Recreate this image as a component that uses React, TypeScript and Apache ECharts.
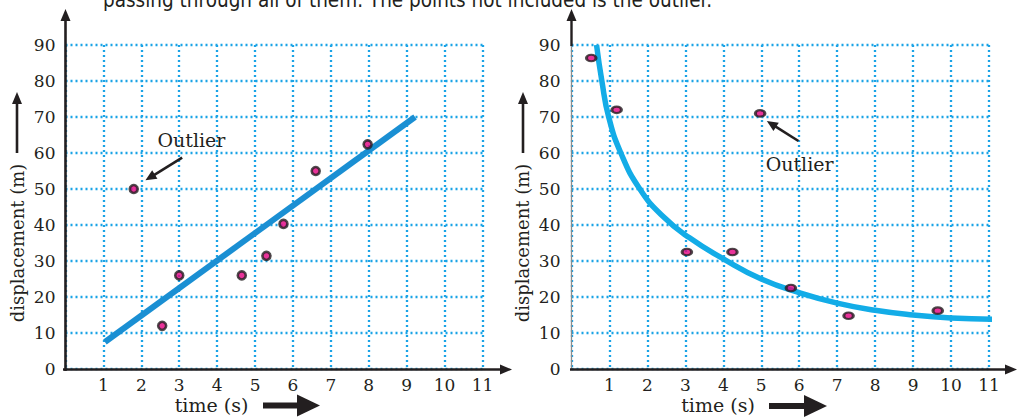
import React, { useEffect, useRef } from "react";
import * as echarts from "echarts";

// ---- data ----
const TOP_TEXT = "passing through all of them. The points not included is the outlier.";
const Y_TITLE = "displacement (m)";
const X_TITLE = "time (s)";
const OUTLIER_LABEL = "Outlier";

// left chart: linear trend
const leftPoints: number[][] = [
  [1.8, 50],
  [2.55, 12],
  [3.0, 26],
  [4.65, 26],
  [5.3, 31.4],
  [5.75, 40.3],
  [6.6, 55],
  [7.97, 62.4],
];
const leftOutlier = [1.8, 50];
const leftFit: number[][] = [
  [1.04, 7.5],
  [9.22, 70],
];

// right chart: decaying curve
const rightPoints: number[][] = [
  [0.52, 86.4],
  [1.19, 72],
  [3.04, 32.5],
  [4.24, 32.5],
  [4.97, 71],
  [5.78, 22.5],
  [7.3, 14.8],
  [9.65, 16.2],
];
const rightOutlier = [4.97, 71];
const rightCurve: number[][] = [
  [0.66, 90],
  [0.8, 80],
  [0.98, 70],
  [1.3, 60],
  [1.8, 50],
  [2.4, 42.5],
  [3.1, 36.5],
  [4.0, 30.6],
  [5.0, 25.0],
  [6.0, 21.2],
  [7.0, 18.3],
  [8.0, 16.3],
  [9.0, 15.0],
  [10.0, 14.2],
  [11.3, 13.8],
];

const X_MIN = 0;
const X_MAX = 11;
const Y_MIN = 0;
const Y_MAX = 90;

const INK = "#231f20";
const GRID_BLUE = "#1aa3e6";
const SERIF = "'DejaVu Serif', 'Liberation Serif', serif";

function arrow(
  x1: number,
  y1: number,
  x2: number,
  y2: number,
  lw: number,
  headLen: number,
  headHalf: number,
  color: string
) {
  const dx = x2 - x1;
  const dy = y2 - y1;
  const len = Math.sqrt(dx * dx + dy * dy);
  const ux = dx / len;
  const uy = dy / len;
  const bx = x2 - ux * headLen;
  const by = y2 - uy * headLen;
  const px = -uy;
  const py = ux;
  return [
    {
      type: "line",
      z: 100,
      silent: true,
      shape: { x1, y1, x2: bx + ux * 1, y2: by + uy * 1 },
      style: { stroke: color, lineWidth: lw, lineCap: "butt" },
    },
    {
      type: "polygon",
      z: 100,
      silent: true,
      shape: {
        points: [
          [x2, y2],
          [bx + px * headHalf, by + py * headHalf],
          [bx - px * headHalf, by - py * headHalf],
        ],
      },
      style: { fill: color },
    },
  ];
}

function makeAxes(gridIndex: number, yMargin: number) {
  const xAxis = {
    type: "value",
    gridIndex,
    min: X_MIN,
    max: X_MAX,
    interval: 1,
    axisLine: { show: false },
    axisTick: { show: false },
    axisLabel: {
      margin: 7,
      color: INK,
      fontFamily: SERIF,
      fontSize: 17,
      formatter: (v: number) => (v === 0 ? "" : String(v)),
    },
    splitLine: {
      show: true,
      lineStyle: { color: GRID_BLUE, width: 2.3, type: [2, 3] },
    },
  };
  const yAxis = {
    type: "value",
    gridIndex,
    min: Y_MIN,
    max: Y_MAX,
    interval: 10,
    axisLine: { show: false },
    axisTick: { show: false },
    axisLabel: {
      margin: yMargin,
      color: INK,
      fontFamily: SERIF,
      fontSize: 17,
    },
    splitLine: {
      show: true,
      lineStyle: { color: GRID_BLUE, width: 2.3, type: [2, 3] },
    },
  };
  return { xAxis, yAxis };
}

export default function App() {
  const ref = useRef<HTMLDivElement>(null);

  useEffect(() => {
    if (!ref.current) return;
    const chart = echarts.init(ref.current, null, { renderer: "svg" });
    const a0 = makeAxes(0, 10);
    const a1 = makeAxes(1, 11);
    chart.setOption({
      animation: false,
      backgroundColor: "#ffffff",
      grid: [
        { left: 65.5, top: 45, width: 417, height: 324 },
        { left: 571.5, top: 45, width: 417.5, height: 324 },
      ],
      xAxis: [a0.xAxis, a1.xAxis],
      yAxis: [a0.yAxis, a1.yAxis],
      series: [
        {
          type: "line",
          xAxisIndex: 0,
          yAxisIndex: 0,
          data: leftFit,
          showSymbol: false,
          lineStyle: { color: "#1a8fd3", width: 6, cap: "butt" },
          z: 3,
        },
        {
          type: "scatter",
          xAxisIndex: 0,
          yAxisIndex: 0,
          data: leftPoints,
          symbol: "circle",
          symbolSize: 8,
          itemStyle: { color: "#e4007f", borderColor: INK, borderWidth: 2.6 },
          z: 4,
        },
        {
          type: "line",
          xAxisIndex: 1,
          yAxisIndex: 1,
          data: rightCurve,
          smooth: 0.5,
          showSymbol: false,
          lineStyle: { color: "#13ace7", width: 5.5, cap: "butt" },
          z: 3,
        },
        {
          type: "scatter",
          xAxisIndex: 1,
          yAxisIndex: 1,
          data: rightPoints,
          symbol: "path://M0,4a6,4 0 1,0 12,0a6,4 0 1,0 -12,0z",
          symbolSize: [9.5, 6.5],
          itemStyle: { color: "#e4007f", borderColor: INK, borderWidth: 2.6 },
          z: 4,
        },
      ],
    });

    const lp = chart.convertToPixel({ gridIndex: 0 }, leftOutlier) as number[];
    const rp = chart.convertToPixel({ gridIndex: 1 }, rightOutlier) as number[];

    const axisY = 369.5;
    const titleText = (x: number, y: number, text: string, size: number, rot = 0) => ({
      type: "text",
      z: 100,
      x,
      y,
      rotation: rot,
      style: {
        text,
        fontFamily: SERIF,
        fontSize: size,
        fill: INK,
        align: "center",
        verticalAlign: "middle",
      },
    });
    const graphics: any[] = [
      // top caption (cut off by the page edge, as in the source)
      {
        type: "text",
        z: 100,
        x: 103,
        y: 0,
        style: {
          text: TOP_TEXT,
          fontFamily: "'Liberation Sans Narrow', 'DejaVu Sans Condensed', sans-serif",
          fontSize: 20.5,
          fill: INK,
          verticalAlign: "middle",
          align: "left",
        },
      },
      // left axes
      ...arrow(63, axisY, 512, axisY, 2.6, 12, 5, INK),
      ...arrow(65.5, 371, 65.5, 9, 2.6, 12, 5, INK),
      // right axes
      {
        type: "line",
        z: 99,
        shape: { x1: 571.5, y1: 369, x2: 571.5, y2: 45 },
        style: { stroke: "#8c8c8c", lineWidth: 1.3 },
      },
      ...arrow(571.5, 46, 571.5, 9, 2.4, 12, 5, INK),
      ...arrow(570, axisY, 1017, axisY, 2.6, 12, 5, INK),
      // y titles
      titleText(17, 243, Y_TITLE, 18, Math.PI / 2),
      titleText(522, 243, Y_TITLE, 18, Math.PI / 2),
      ...arrow(17, 153, 17, 92, 2.6, 12, 5, INK),
      ...arrow(523, 153, 523, 92, 2.6, 12, 5, INK),
      // x titles
      titleText(211.5, 405, X_TITLE, 19),
      titleText(718, 405, X_TITLE, 19),
      ...arrow(263, 405.5, 320, 405.5, 6, 23, 11, INK),
      ...arrow(769, 406, 827, 406, 6, 23, 11, INK),
      // outlier annotations
      titleText(lp[0] + 57.7, lp[1] - 49, OUTLIER_LABEL, 19),
      ...arrow(lp[0] + 48.4, lp[1] - 31.3, lp[0] + 11.7, lp[1] - 8.7, 2.6, 11, 5, INK),
      titleText(rp[0] + 39.5, rp[1] + 51, OUTLIER_LABEL, 19),
      ...arrow(rp[0] + 38.3, rp[1] + 27.6, rp[0] + 6.7, rp[1] + 7.6, 2.6, 11, 5, INK),
    ];
    chart.setOption({ graphic: graphics });

    return () => chart.dispose();
  }, []);

  return (
    <div
      ref={ref}
      style={{ position: "fixed", left: 0, top: 0, width: 1018, height: 417 }}
    />
  );
}
